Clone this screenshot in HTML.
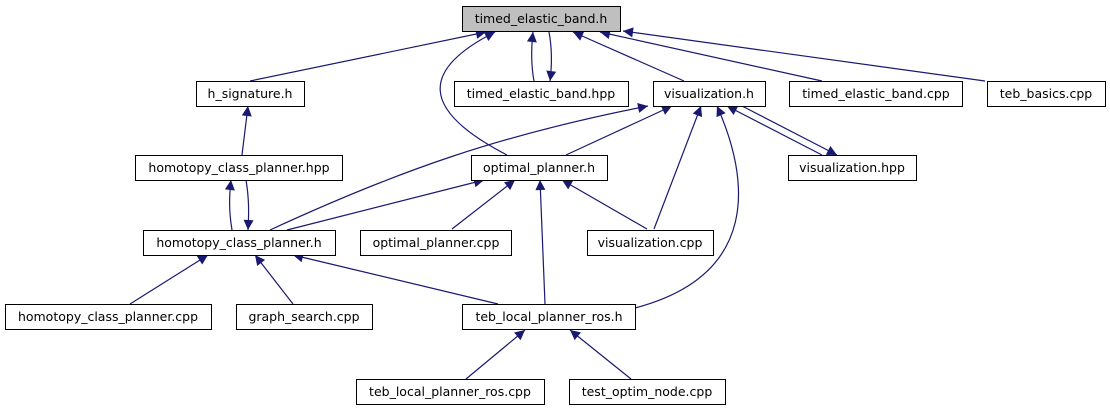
<!DOCTYPE html>
<html><head><meta charset="utf-8"><style>
html,body{margin:0;padding:0;background:#fff;}
svg{display:block;}
text{font-family:"DejaVu Sans","Liberation Sans",sans-serif;font-size:12.5px;fill:#000;}
</style></head><body>
<svg width="1110" height="411" viewBox="0 0 1110 411" xmlns="http://www.w3.org/2000/svg">
<defs>
<marker id="a" viewBox="0 0 10 10" refX="10" refY="5" markerWidth="12" markerHeight="10" markerUnits="userSpaceOnUse" orient="auto">
<path d="M0,0 L10,5 L0,10 z" fill="#191970"/>
</marker>
</defs>
<g fill="none" stroke="#191970" stroke-width="1.2" marker-end="url(#a)">
<path d="M250,81 L486,32"/>
<path d="M507,155 C420,110 420,70 495,32"/>
<path d="M534,81 C531,65 531,50 533,32"/>
<path d="M549,32 C552,48 552,65 550,81"/>
<path d="M684,81 L573,32"/>
<path d="M822,81 L600,32"/>
<path d="M985,81 L623,31"/>
<path d="M242,155 L248,106"/>
<path d="M232,230 C229,212 229,198 231,180"/>
<path d="M246,180 C249,198 249,212 248,230"/>
<path d="M270,230 C400,170 500,135 648,106"/>
<path d="M287,230 L484,180"/>
<path d="M566,155 L672,106"/>
<path d="M452,229 L515,180"/>
<path d="M654,229 L701,106"/>
<path d="M647,229 L562,180"/>
<path d="M545,304 L540,180"/>
<path d="M635,308 C760,275 750,180 717,106"/>
<path d="M822,155 L727,106"/>
<path d="M742,106 L837,155"/>
<path d="M130,304 L208,255"/>
<path d="M293,304 L255,255"/>
<path d="M498,304 L293,255"/>
<path d="M466,379 L525,330"/>
<path d="M631,379 L570,330"/>
</g>
<g stroke="#000" stroke-width="1">
<rect x="462.5" y="6.5" width="158" height="25" fill="#bfbfbf"/>
<g fill="#fff">
<rect x="196.5" y="81.5" width="108" height="25"/>
<rect x="454.5" y="81.5" width="174" height="25"/>
<rect x="653.5" y="81.5" width="112" height="25"/>
<rect x="789.5" y="81.5" width="173" height="25"/>
<rect x="987.5" y="81.5" width="118" height="25"/>
<rect x="135.5" y="155.5" width="207" height="25"/>
<rect x="471.5" y="155.5" width="136" height="25"/>
<rect x="788.5" y="155.5" width="128" height="25"/>
<rect x="143.5" y="230.5" width="192" height="25"/>
<rect x="360.5" y="230.5" width="151" height="25"/>
<rect x="587.5" y="230.5" width="126" height="25"/>
<rect x="5.5" y="304.5" width="206" height="25"/>
<rect x="236.5" y="304.5" width="136" height="25"/>
<rect x="462.5" y="304.5" width="173" height="25"/>
<rect x="356.5" y="379.5" width="188" height="25"/>
<rect x="569.5" y="379.5" width="156" height="25"/>
</g></g>
<g text-anchor="middle">
<text x="541" y="23">timed_elastic_band.h</text>
<text x="250" y="98">h_signature.h</text>
<text x="541" y="98">timed_elastic_band.hpp</text>
<text x="709" y="98">visualization.h</text>
<text x="876" y="98">timed_elastic_band.cpp</text>
<text x="1046" y="98">teb_basics.cpp</text>
<text x="239" y="172">homotopy_class_planner.hpp</text>
<text x="539" y="172">optimal_planner.h</text>
<text x="852" y="172">visualization.hpp</text>
<text x="239" y="247">homotopy_class_planner.h</text>
<text x="436" y="247">optimal_planner.cpp</text>
<text x="650" y="247">visualization.cpp</text>
<text x="108" y="321">homotopy_class_planner.cpp</text>
<text x="304" y="321">graph_search.cpp</text>
<text x="549" y="321">teb_local_planner_ros.h</text>
<text x="450" y="396">teb_local_planner_ros.cpp</text>
<text x="647" y="396">test_optim_node.cpp</text>
</g>
</svg>
</body></html>
